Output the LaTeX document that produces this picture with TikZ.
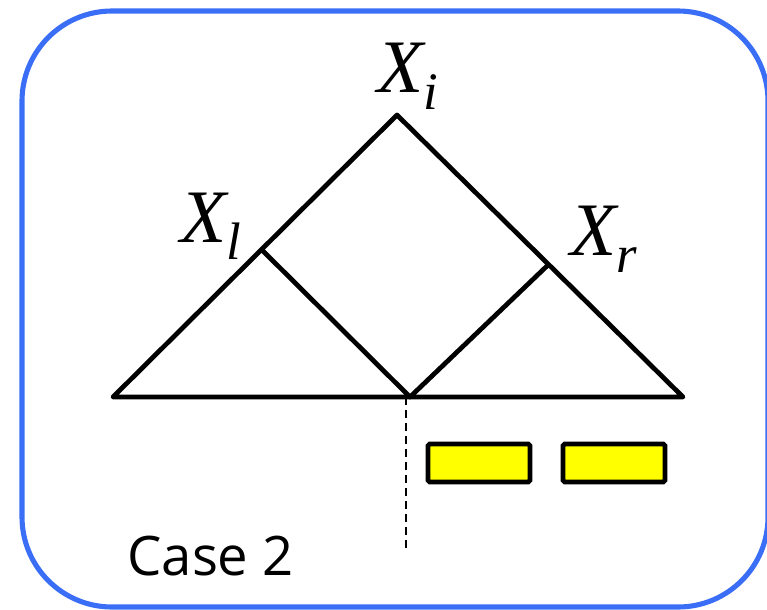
\documentclass[tikz,border=0pt]{standalone}
\usepackage{fontspec}
\setmainfont{Liberation Serif}
\newfontfamily\casefont{Open Sans}
\definecolor{frameblue}{RGB}{59,110,246}
\definecolor{boxyellow}{RGB}{255,255,0}
\newcommand{\sublbl}[2]{{\fontsize{43}{43}\selectfont\itshape #1\raisebox{-10pt}{\fontsize{30}{30}\selectfont #2}}}
\begin{document}
\begin{tikzpicture}[x=0.02cm, y=-0.02cm,
  frame/.style={draw=frameblue, line width=2.9pt, rounded corners=1.8cm},
  edge/.style={line width=2.7pt, line cap=round, line join=round},
  cut/.style={line width=1.1pt, dash pattern=on 0.16cm off 0.1cm},
  block/.style={draw, fill=boxyellow, line width=2.7pt, rounded corners=1pt,
    minimum width=2.04cm, minimum height=0.76cm, inner sep=0pt},
  lbl/.style={anchor=base west, inner sep=0pt}]
\useasboundingbox (0,0) rectangle (767,609);
\draw[frame] (22,11) rectangle (768,607);
% tree
\coordinate (top) at (397,115);
\coordinate (bl)  at (113,397);
\coordinate (br)  at (683,397);
\coordinate (l)   at (262,250);
\coordinate (r)   at (548,265);
\coordinate (mid) at (410,397);
\draw[edge] (bl) -- (top) -- (br) -- cycle;
\draw[edge] (l) -- (mid) -- (r);
\node[lbl] (xi) at (377,92)  {\sublbl{X}{i}};
\node[lbl] (xl) at (180,242) {\sublbl{X}{l}};
\node[lbl] (xr) at (570,255) {\sublbl{X}{r}};
% split
\coordinate (cutend) at (406,550);
\draw[cut] (406,397) -- (cutend);
\node[block] (b1) at (479,463) {};
\node[block] (b2) at (614,463) {};
\node[lbl] (case) at (127,575) {\casefont\fontsize{31}{31}\selectfont Case 2};
\end{tikzpicture}
\end{document}
